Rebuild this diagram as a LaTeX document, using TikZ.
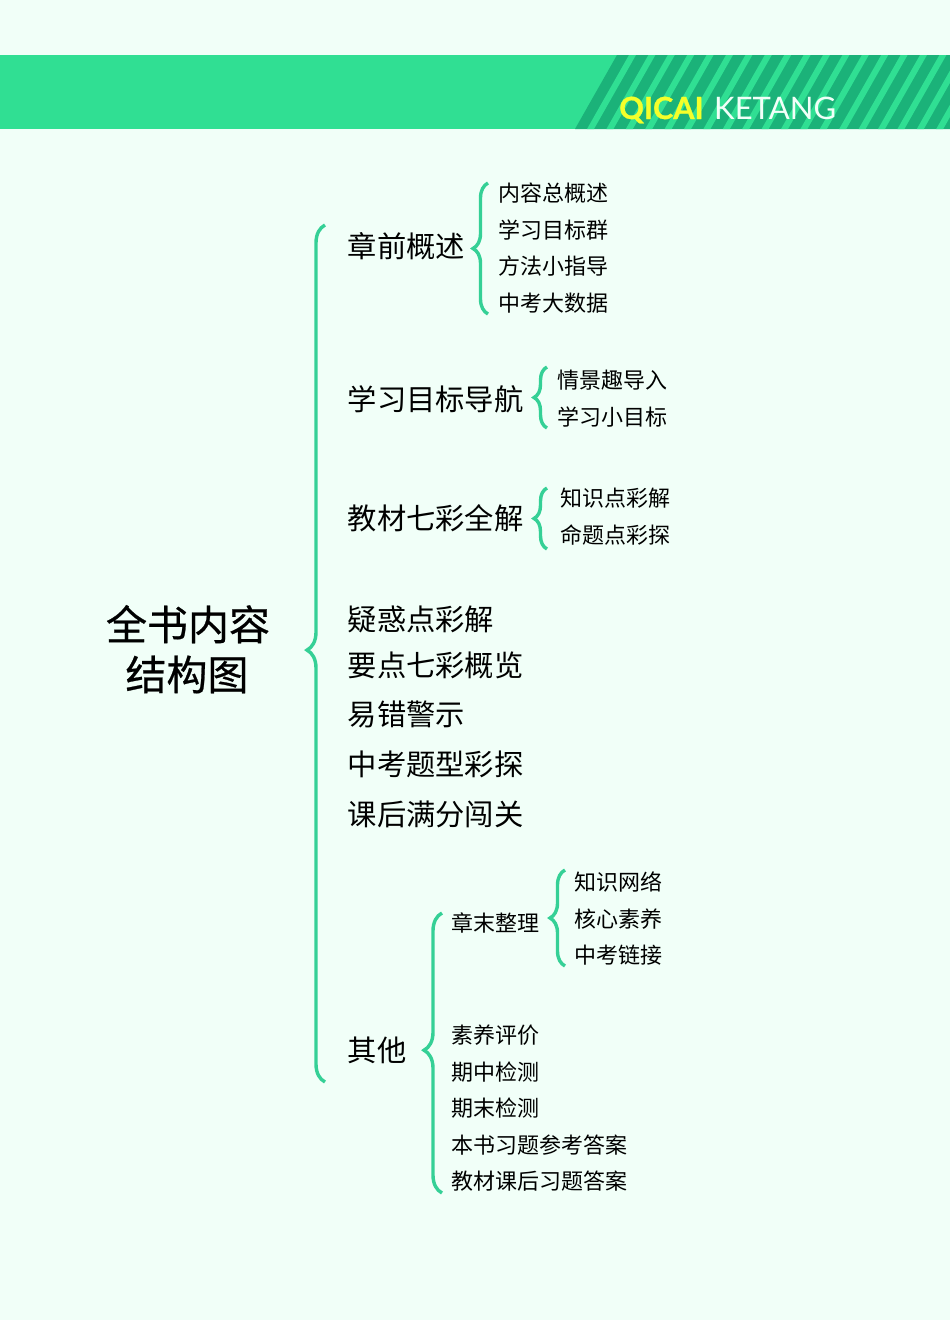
\documentclass[tikz,border=0pt]{standalone}
\usepackage{fontspec}
\setmainfont{Noto Sans CJK SC}
\newfontfamily\titlefont[FakeBold=0.6]{Noto Sans CJK SC}
\newfontfamily\logofont{Lato}
\newfontfamily\logoheavy[FakeBold=0.8]{Lato Bold}
\usetikzlibrary{decorations.pathreplacing}
\definecolor{paper}{HTML}{F1FFF8}
\definecolor{bandgreen}{HTML}{30DF93}
\definecolor{stripegreen}{HTML}{1BB279}
\definecolor{bracegreen}{HTML}{35D096}
\definecolor{logoyellow}{HTML}{F4FF2A}
\tikzset{
  bracket/.style={draw=bracegreen,line width=3.4pt,decorate,decoration={brace,amplitude=#1}},
  bracket/.default=14pt,
  titlelabel/.style={anchor=base,inner sep=0pt,font=\titlefont\fontsize{41}{44}\selectfont},
  biglabel/.style={anchor=base west,inner sep=0pt,font=\fontsize{29.3}{32}\selectfont},
  smalllabel/.style={anchor=base west,inner sep=0pt,font=\fontsize{22}{24}\selectfont},
}
\begin{document}
\begin{tikzpicture}[x=1pt,y=-1pt]
\useasboundingbox (0,0) rectangle (950,1320);
\fill[paper] (0,0) rectangle (950,1320);
% the band
\fill[bandgreen] (0,55) rectangle (950,129);
\begin{scope}
\clip (0,55) rectangle (950,129);
\fill[stripegreen] (575,129) -- (617,55) -- (950,55) -- (950,129) -- cycle;
\foreach \x in {0,...,18}
  \fill[bandgreen,xshift=\x*19.4pt] (587,129) -- (629,55) -- (636,55) -- (594,129) -- cycle;
\end{scope}
\node[anchor=base west,inner sep=0pt,text=logoyellow,font=\logoheavy\fontsize{30.6}{34}\selectfont] (logoa) at (619,119) {QICAI};
\node[anchor=base west,inner sep=0pt,text=paper,font=\logofont\fontsize{31}{34}\selectfont] (logob) at (714,119) {KETANG};
% the title
\node[titlelabel] (titlea) at (188,640) {全书内容};
\node[titlelabel] (titleb) at (187,690) {结构图};
% the left column
\foreach \y/\t/\n in {257/章前概述/a,410/学习目标导航/b,529/教材七彩全解/c,630/疑惑点彩解/d,676/要点七彩概览/e,725/易错警示/f,775/中考题型彩探/g,825/课后满分闯关/h,1061/其他/i}
  \node[biglabel] (big\n) at (347.5,\y) {\t};
% the small labels
\foreach \x/\y/\t/\n in {498.5/201/内容总概述/a,498.5/238/学习目标群/b,498.5/274/方法小指导/c,498.5/311/中考大数据/d,
  557.5/388/情景趣导入/e,557.5/425/学习小目标/f,560/506/知识点彩解/g,560/543/命题点彩探/h,
  574.5/890/知识网络/i,574.5/927/核心素养/j,574.5/963/中考链接/k,451.5/931/章末整理/l,
  451.5/1043/素养评价/m,451.5/1080/期中检测/n,451.5/1116/期末检测/o,451.5/1153/本书习题参考答案/p,451.5/1189/教材课后习题答案/q}
  \node[smalllabel] (small\n) at (\x,\y) {\t};
% the brackets
\coordinate (maintop) at (325,225);
\coordinate (mainbot) at (325,1082);
\coordinate (atop) at (488,183);
\coordinate (abot) at (488,314);
\coordinate (btop) at (547,367);
\coordinate (bbot) at (547,428);
\coordinate (ctop) at (547,488);
\coordinate (cbot) at (547,549);
\coordinate (dtop) at (442,913);
\coordinate (dbot) at (442,1193);
\coordinate (etop) at (565,870);
\coordinate (ebot) at (565,966);
\draw[bracket=18pt,decoration={aspect=0.504}] (mainbot) -- (maintop);
\draw[bracket=15pt] (abot) -- (atop);
\draw[bracket=13pt] (bbot) -- (btop);
\draw[bracket=13pt] (cbot) -- (ctop);
\draw[bracket=18pt,decoration={aspect=0.51}] (dbot) -- (dtop);
\draw[bracket=15pt] (ebot) -- (etop);
\end{tikzpicture}
\end{document}
